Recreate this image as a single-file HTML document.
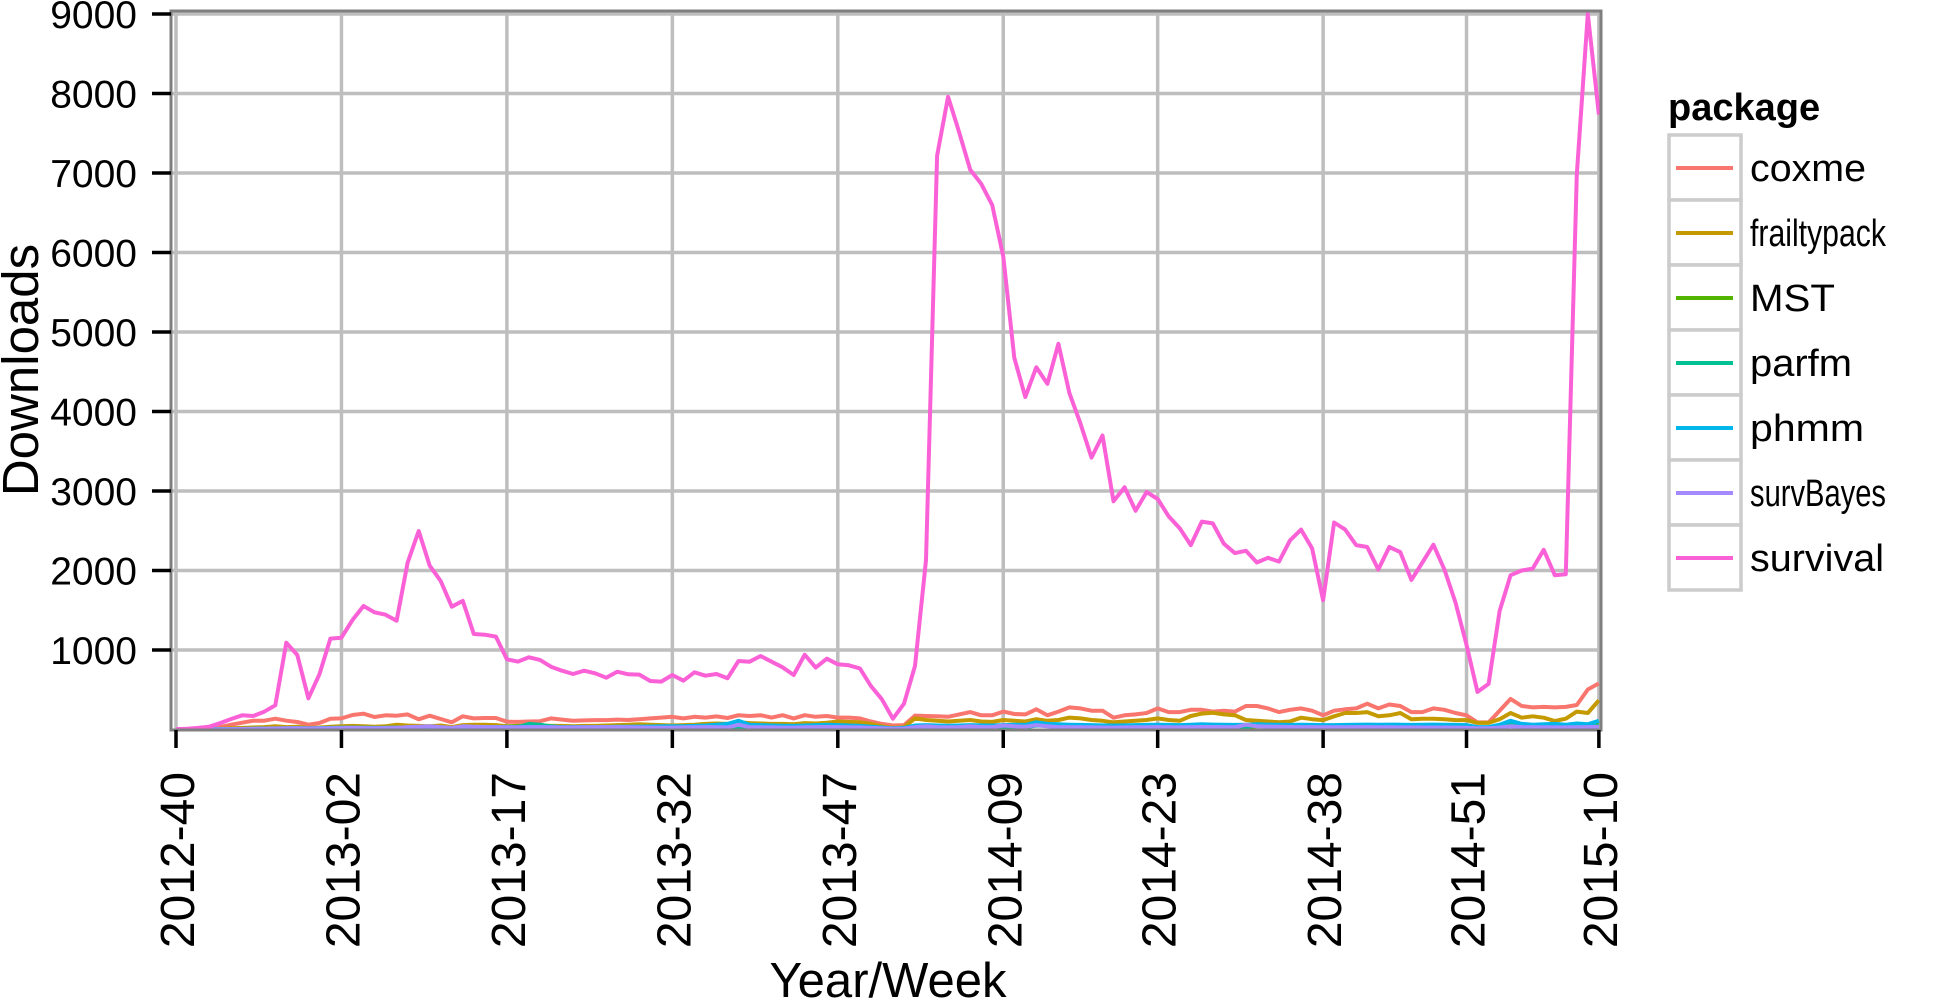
<!DOCTYPE html>
<html><head><meta charset="utf-8"><style>
html,body{margin:0;padding:0;background:#fff;}
svg{display:block;font-family:"Liberation Sans",sans-serif;}
</style></head><body>
<svg id="chart" width="1934" height="999" viewBox="0 0 1934 999">
<g id="grid"></g>
<g id="series"></g>
<rect x="171" y="11" width="1430" height="719" fill="none" stroke="#7f7f7f" stroke-width="3"/>
<g id="yaxis"></g>
<g id="xaxis"></g>
<text x="888" y="997" font-size="49" text-anchor="middle">Year/Week</text>
<text transform="translate(38,370) rotate(-90)" font-size="51" text-anchor="middle">Downloads</text>
<g id="legend">
<text x="1668" y="120" font-size="38" font-weight="bold">package</text>
</g>
</svg>
<script>
const packages = ["coxme","frailtypack","MST","parfm","phmm","survBayes","survival"];
const colors = ["#F8766D","#C49A00","#53B400","#00C094","#00B6EB","#A58AFF","#FB61D7"];
const yTicks = [1000,2000,3000,4000,5000,6000,7000,8000,9000];
const xTickLabels = ["2012-40","2013-02","2013-17","2013-32","2013-47","2014-09","2014-23","2014-38","2014-51","2015-10"];
const xTickIndex = [0,15,30,45,60,75,89,104,117,129];
const survival = [5,10,20,35,80,132,178,170,224,304,1092,937,392,694,1143,1155,1377,1553,1474,1444,1369,2098,2497,2061,1868,1545,1617,1201,1193,1168,883,854,908,875,790,740,698,740,707,652,727,694,690,610,602,686,614,719,677,698,644,862,853,925,853,782,686,941,778,891,820,807,769,547,380,136,325,800,2130,7219,7958,7515,7041,6864,6597,5947,4675,4183,4556,4349,4852,4231,3846,3420,3698,2870,3047,2751,2988,2899,2680,2532,2319,2615,2592,2337,2219,2248,2100,2160,2112,2379,2515,2278,1627,2604,2515,2319,2296,2012,2296,2231,1882,2100,2325,2012,1598,1065,473,574,1491,1941,2000,2024,2260,1941,1953,6982,9000,7734];
const coxme = [0,2,5,10,30,60,86,111,111,136,111,94,61,82,136,140,182,199,157,178,174,190,128,174,132,90,166,140,145,145,98,95,100,105,140,125,110,115,118,118,125,120,130,140,150,160,140,160,150,165,145,180,170,180,150,180,140,180,160,170,150,150,140,100,70,50,55,175,170,166,160,190,219,178,178,225,195,190,254,178,225,278,266,237,237,148,178,190,207,266,219,219,248,248,225,237,225,296,296,266,219,248,266,237,178,237,254,266,325,266,314,296,219,219,266,248,207,178,89,89,237,385,296,278,284,278,284,308,503,580];
const frailtypack = [0,1,2,4,8,15,20,25,30,40,30,35,20,25,35,40,45,40,35,40,60,50,45,40,50,30,55,60,60,55,40,45,50,50,45,45,40,45,45,50,55,60,65,60,55,50,55,60,70,75,70,90,80,75,70,70,65,80,75,85,100,95,90,70,40,20,30,140,120,110,100,110,120,100,95,120,110,100,130,110,120,150,140,120,110,90,100,110,120,140,120,110,170,200,210,190,180,120,110,100,90,100,148,130,118,166,207,207,219,166,178,207,130,136,136,130,118,118,83,83,130,207,148,166,148,107,136,225,207,367];
const MST = [0,0,1,2,3,5,6,6,8,8,10,10,8,9,10,12,14,12,10,12,14,16,14,15,12,10,15,20,25,30,35,40,45,40,35,30,30,28,26,25,25,24,22,20,20,20,22,25,28,25,20,30,28,25,22,20,20,25,28,30,35,30,25,20,15,10,12,30,30,25,25,30,35,30,30,35,40,35,60,50,40,35,30,30,25,25,28,30,30,35,30,30,35,40,40,35,30,30,40,45,40,35,40,40,35,30,30,30,35,30,30,28,26,25,25,24,22,20,15,15,30,80,50,40,40,35,35,40,45,60];
const parfm = [0,0,1,2,3,4,5,5,6,6,8,8,6,7,8,10,10,10,9,10,12,12,10,12,10,8,12,15,18,20,25,30,70,60,40,30,28,26,24,22,22,20,20,18,18,18,20,20,25,22,20,30,25,22,20,18,18,22,24,26,30,28,24,18,12,8,10,20,22,20,20,22,25,24,22,28,30,28,50,45,35,30,28,26,24,22,24,26,28,30,28,26,30,35,34,30,28,28,60,30,28,26,28,26,25,24,24,24,26,24,24,22,22,20,20,20,18,16,12,12,20,60,40,30,30,28,28,30,35,45];
const phmm = [0,0,1,2,4,6,8,10,12,14,16,18,15,18,20,22,24,22,20,22,24,26,24,26,22,18,24,26,28,30,30,32,34,32,30,28,28,30,30,32,34,35,36,38,40,42,40,45,50,60,70,110,60,55,50,48,45,50,55,60,55,50,45,35,25,15,20,50,55,50,48,50,55,52,50,55,60,58,90,70,65,60,58,55,52,50,52,55,58,60,58,55,60,65,62,60,58,60,65,62,60,58,60,58,55,55,58,60,62,60,62,60,58,60,62,60,58,55,30,30,60,110,70,60,65,70,60,75,65,110];
const survBayes = [0,0,1,2,3,5,6,8,10,12,14,16,12,14,16,18,20,18,16,18,20,30,35,40,30,20,40,35,30,30,28,28,30,30,28,26,26,28,28,30,30,28,26,24,24,24,26,28,30,28,26,60,30,28,26,24,24,28,30,32,30,28,26,20,15,10,12,30,40,30,28,30,40,30,30,50,40,35,55,40,30,30,28,26,25,24,26,28,28,30,28,26,30,32,32,30,28,60,40,36,34,32,30,30,28,28,28,30,30,28,28,26,26,25,25,25,24,22,15,15,25,40,30,28,28,26,26,28,30,35];
const allSeries = [coxme,frailtypack,MST,parfm,phmm,survBayes,survival];
const legendTextWidth = {coxme:116,frailtypack:136,MST:85,parfm:102,phmm:114,survBayes:136,survival:134};

const NS = "http://www.w3.org/2000/svg";
const X0 = 176, DX = 11.03, Y0 = 729.5, PY = 0.0795;
function xScale(i){ return X0 + DX*i; }
function yScale(v){ return Y0 - v*PY; }
function mk(tag, attrs, parent){ const e=document.createElementNS(NS,tag); for(const k in attrs) e.setAttribute(k,attrs[k]); parent.appendChild(e); return e; }

const grid=document.getElementById('grid'), yax=document.getElementById('yaxis'), xax=document.getElementById('xaxis');
yTicks.forEach(t=>{
  const y=yScale(t);
  const g=mk('line',{x1:171,x2:1601,y1:y,y2:y,stroke:'#bebebe','stroke-width':3.5},grid);
  
  
  const tk=mk('line',{x1:152,x2:171,y1:y,y2:y,stroke:'#000','stroke-width':3.5},yax);
  
  
  const tx=mk('text',{x:137,y:y+14,'font-size':39,'text-anchor':'end'},yax);
  tx.textContent=String(t);
  
  
});
xTickIndex.forEach((idx,k)=>{
  const x=xScale(idx);
  const g=mk('line',{x1:x,x2:x,y1:11,y2:730,stroke:'#bebebe','stroke-width':3.5},grid);
  
  
  const tk=mk('line',{x1:x,x2:x,y1:730,y2:748,stroke:'#000','stroke-width':3.5},xax);
  
  
  const tx=mk('text',{transform:`translate(${x+18},772) rotate(-90)`,'font-size':48,'text-anchor':'end'},xax);
  tx.textContent=xTickLabels[k];
  
  
});
const sg=document.getElementById('series');
allSeries.forEach((s,k)=>{
  const pts=s.map((v,i)=>xScale(i).toFixed(1)+','+yScale(v).toFixed(1)).join(' ');
  const p=mk('polyline',{points:pts,fill:'none',stroke:colors[k],'stroke-width':4,'stroke-linejoin':'round'},sg);
  
  
});
const lg=document.getElementById('legend');
packages.forEach((name,k)=>{
  const y=135+k*65;
  const r=mk('rect',{x:1669,y:y,width:72,height:65,fill:'#fff',stroke:'#cccccc','stroke-width':3.5},lg);
  
  
  const l=mk('line',{x1:1676,x2:1733,y1:y+33,y2:y+33,stroke:colors[k],'stroke-width':4},lg);
  
  
  const t=mk('text',{x:1750,y:y+46,'font-size':38,textLength:legendTextWidth[name],lengthAdjust:'spacingAndGlyphs'},lg);
  t.textContent=name;
  
  
});
</script>
</body></html>
